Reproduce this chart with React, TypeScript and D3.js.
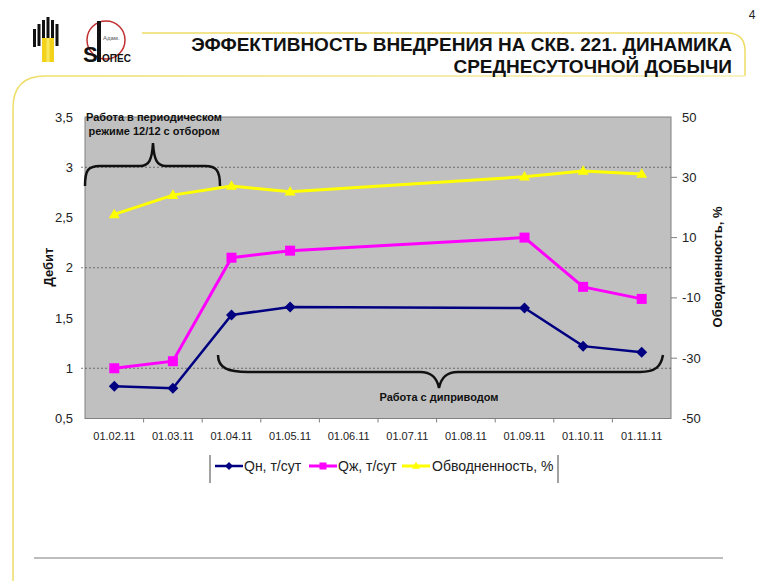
import React from "react";
import * as d3 from "d3";

const categories = ["01.02.11","01.03.11","01.04.11","01.05.11","01.06.11","01.07.11","01.08.11","01.09.11","01.10.11","01.11.11"];
const qn: (number | null)[] = [0.82, 0.80, 1.53, 1.61, null, null, null, 1.60, 1.22, 1.16];
const qzh: (number | null)[] = [1.00, 1.07, 2.10, 2.17, null, null, null, 2.30, 1.81, 1.69];
const water: (number | null)[] = [17.7, 24.1, 27.1, 25.2, null, null, null, 30.2, 32.1, 31.1];
const leftTicks = [0.5, 1, 1.5, 2, 2.5, 3, 3.5];
const leftGrid = [1, 2, 3];
const rightTicks = [-50, -30, -10, 10, 30, 50];
const legendLabels = ["Qн, т/сут", "Qж, т/сут", "Обводненность, %"];
const titleLines = ["ЭФФЕКТИВНОСТЬ ВНЕДРЕНИЯ НА СКВ. 221. ДИНАМИКА", "СРЕДНЕСУТОЧНОЙ ДОБЫЧИ"];
const noteTop = ["Работа в периодическом", "режиме 12/12 с отбором"];
const noteBottom = "Работа с диприводом";

const FONT = "'Liberation Sans', Arial, sans-serif";
const NAVY = "#000080";
const MAGENTA = "#ff00ff";
const YELLOW = "#ffff00";

const PL = 85, PR = 671, PT = 117, PB = 418.5;

function diamond(cx: number, cy: number, r: number) {
  return `M${cx},${cy - r}L${cx + r},${cy}L${cx},${cy + r}L${cx - r},${cy}Z`;
}
function triangle(cx: number, cy: number, s: number) {
  const h = s * 0.87;
  return `M${cx},${cy - h * 0.6}L${cx + s / 2},${cy + h * 0.4}L${cx - s / 2},${cy + h * 0.4}Z`;
}

export default function App() {
  const x = d3.scaleBand<string>().domain(categories).range([PL, PR]);
  const xc = (c: string) => (x(c) as number) + x.bandwidth() / 2;
  const yL = d3.scaleLinear().domain([0.5, 3.5]).range([PB, PT]);
  const yR = d3.scaleLinear().domain([-50, 50]).range([PB, PT]);

  const pts = (vals: (number | null)[], y: d3.ScaleLinear<number, number>) =>
    categories
      .map((c, i) => ({ c, v: vals[i] }))
      .filter((d) => d.v !== null)
      .map((d) => [xc(d.c), y(d.v as number)] as [number, number]);

  const line = d3.line<[number, number]>();
  const qnPts = pts(qn, yL);
  const qzhPts = pts(qzh, yL);
  const wPts = pts(water, yR);

  const fmt = (v: number) => String(v).replace(".", ",");

  const braceTop = "M85,186 C85,170 88,166 100,166 L140,166 C149,166 152,160 153,143 C154,160 157,166 166,166 L205,166 C216,166 220,170 220,186";
  const braceBottom = "M218,355 C218,368 228,372 248,372 L420,372 C432,372 437,378 439,388 C441,378 446,372 458,372 L640,372 C656,372 661,366 663,355";

  return (
    <svg width={766} height={581} style={{ position: "absolute", left: 0, top: 0, display: "block", background: "#fff" }} fontFamily={FONT}>
      <defs>
        <linearGradient id="fade" x1="0" x2="1" y1="0" y2="0">
          <stop offset="0" stopColor="#eedd66" />
          <stop offset="1" stopColor="#f6eeb0" />
        </linearGradient>
      </defs>
      <rect x={0} y={0} width={766} height={581} fill="#fff" />
      {/* slide frame */}
      <path d="M142,33 H727 Q745,33 745,51 V76" fill="none" stroke="#eedd66" strokeWidth={1.5} />
      <path d="M13,581 V108 Q13,76 45,76 H745" fill="none" stroke="url(#fade)" strokeWidth={1.5} />
      <text x={752} y={19} fontSize={12} textAnchor="middle" fill="#222">4</text>
      {/* logos */}
      <g>
        <rect x={33} y={29} width={3} height={18} fill="#111" />
        <rect x={37.5} y={24} width={3} height={22} fill="#111" />
        <rect x={42} y={20} width={3} height={18} fill="#111" />
        <rect x={46.5} y={17} width={3} height={21} fill="#111" />
        <rect x={51} y={20} width={3} height={18} fill="#111" />
        <rect x={55.5} y={24} width={3} height={22} fill="#111" />
        <rect x={42} y={38} width={12} height={24} fill="#f2d21a" />
        <rect x={46.5} y={38} width={3} height={24} fill="#f8e860" />
      </g>
      <g>
        <circle cx={106} cy={40} r={19} fill="none" stroke="#c03030" strokeWidth={1.5} />
        <rect x={97} y={21} width={4} height={41} fill="#111" />
        <text x={83} y={62} fontSize={22} fontWeight="bold" fill="#111">S</text>
        <text x={102} y={62} fontSize={10} fontWeight="bold" fill="#111">ОПЕС</text>
        <text x={103} y={40} fontSize={6} fill="#555">Адам.</text>
      </g>
      {/* title */}
      {titleLines.map((t, i) => (
        <text key={i} x={732} y={51 + i * 22} fontSize={19} fontWeight="bold" textAnchor="end" fill="#111">{t}</text>
      ))}
      {/* plot area */}
      <rect x={PL} y={PT} width={PR - PL} height={PB - PT} fill="#c0c0c0" stroke="#808080" strokeWidth={1} />
      {leftGrid.map((v) => (
        <line key={v} x1={PL - 4} x2={PR} y1={yL(v)} y2={yL(v)} stroke="#555" strokeWidth={0.8} strokeDasharray="2,2" />
      ))}
      {leftTicks.map((v) => (
        <text key={v} x={73} y={yL(v)} dy="0.35em" fontSize={13} textAnchor="end" fill="#222">{fmt(v)}</text>
      ))}
      {rightTicks.map((v) => (
        <g key={v}>
          {v !== 50 && v !== -50 && <line x1={PR} x2={PR + 6} y1={yR(v)} y2={yR(v)} stroke="#808080" />}
          <text x={682} y={yR(v)} dy="0.35em" fontSize={13} fill="#222">{v}</text>
        </g>
      ))}
      {categories.map((c, i) => (
        <g key={c}>
          {i > 0 && <line x1={x(c) as number} x2={x(c) as number} y1={PB} y2={PB + 4} stroke="#808080" />}
          <text x={xc(c)} y={436} dy="0.35em" fontSize={11} textAnchor="middle" fill="#222">{c}</text>
        </g>
      ))}
      <text transform="translate(48,267) rotate(-90)" fontSize={13} fontWeight="bold" textAnchor="middle" dy="0.35em" fill="#111">Дебит</text>
      <text transform="translate(717,267) rotate(-90)" fontSize={13} fontWeight="bold" textAnchor="middle" dy="0.35em" fill="#111">Обводненность, %</text>
      {/* series */}
      <path d={line(wPts) || ""} fill="none" stroke={YELLOW} strokeWidth={3} />
      <path d={line(qzhPts) || ""} fill="none" stroke={MAGENTA} strokeWidth={3} />
      <path d={line(qnPts) || ""} fill="none" stroke={NAVY} strokeWidth={2.5} />
      {wPts.map((p, i) => <path key={"w" + i} d={triangle(p[0], p[1], 11)} fill={YELLOW} />)}
      {qzhPts.map((p, i) => <rect key={"m" + i} x={p[0] - 5} y={p[1] - 5} width={10} height={10} fill={MAGENTA} />)}
      {qnPts.map((p, i) => <path key={"n" + i} d={diamond(p[0], p[1], 5.5)} fill={NAVY} />)}
      {/* annotations */}
      <path d={braceTop} fill="none" stroke="#111" strokeWidth={2.5} />
      <path d={braceBottom} fill="none" stroke="#111" strokeWidth={2.5} />
      {noteTop.map((t, i) => (
        <text key={i} x={154} y={117 + i * 14} dy="0.35em" fontSize={11} fontWeight="bold" textAnchor="middle" fill="#111">{t}</text>
      ))}
      <text x={439} y={397} dy="0.35em" fontSize={11} fontWeight="bold" textAnchor="middle" fill="#111">{noteBottom}</text>
      {/* legend */}
      <line x1={210} x2={210} y1={455} y2={483} stroke="#444" />
      <line x1={558} x2={558} y1={455} y2={483} stroke="#444" />
      <g>
        <line x1={215} x2={243} y1={466} y2={466} stroke={NAVY} strokeWidth={2.5} />
        <path d={diamond(229, 466, 4)} fill={NAVY} />
        <text x={244} y={466} dy="0.35em" fontSize={14} fill="#222">{legendLabels[0]}</text>
        <line x1={309} x2={337} y1={466} y2={466} stroke={MAGENTA} strokeWidth={3} />
        <rect x={319.5} y={462.5} width={7} height={7} fill={MAGENTA} />
        <text x={338} y={466} dy="0.35em" fontSize={14} fill="#222">{legendLabels[1]}</text>
        <line x1={402} x2={430} y1={466} y2={466} stroke={YELLOW} strokeWidth={3} />
        <path d={triangle(416, 466, 8)} fill={YELLOW} />
        <text x={432} y={466} dy="0.35em" fontSize={14} fill="#222">{legendLabels[2]}</text>
      </g>
      <line x1={34} x2={723} y1={558} y2={558} stroke="#bdbdbd" strokeWidth={2} />
    </svg>
  );
}
